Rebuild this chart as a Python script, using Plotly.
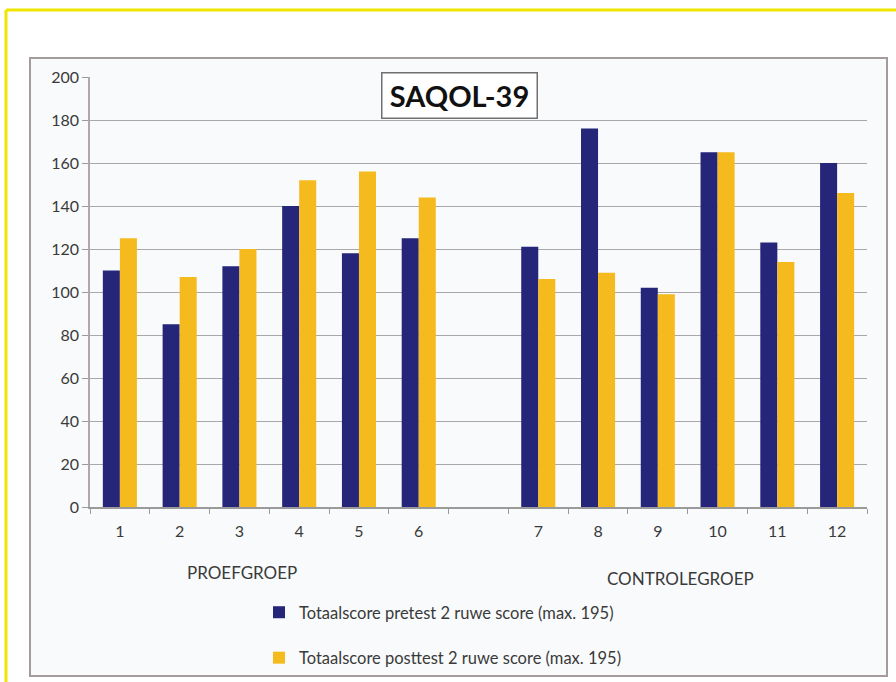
import plotly.graph_objects as go

# ---- data ----
proefgroep = ["1", "2", "3", "4", "5", "6"]
controlegroep = ["7", "8", "9", "10", "11", "12"]
pretest_proef = [110, 85, 112, 140, 118, 125]
posttest_proef = [125, 107, 120, 152, 156, 144]
pretest_controle = [121, 176, 102, 165, 123, 160]
posttest_controle = [106, 109, 99, 165, 114, 146]
y_ticks = [0, 20, 40, 60, 80, 100, 120, 140, 160, 180, 200]

title_text = "SAQOL-39"
group_labels = ["PROEFGROEP", "CONTROLEGROEP"]
series_names = [
    "Totaalscore pretest 2 ruwe score (max. 195)",
    "Totaalscore posttest 2 ruwe score (max. 195)",
]

GAP = " "
x_cats = proefgroep + [GAP] + controlegroep
pre = pretest_proef + [None] + pretest_controle
post = posttest_proef + [None] + posttest_controle

BLUE = "#25257a"
YELLOW = "#f5bb1e"
FONT = "Lato, 'Open Sans', sans-serif"
TXT = "#3a3a3a"

W, H = 896, 682
L, R, T, B = 90, 29, 77, 175
pw = W - L - R
ph = H - T - B


def px_x(px):
    return (px - L) / pw


def px_y(py):
    return (H - B - py) / ph


fig = go.Figure()
fig.add_trace(go.Bar(x=x_cats, y=pre, name=series_names[0], marker_color=BLUE,
                     marker_line_width=0, legendgroup="a"))
fig.add_trace(go.Bar(x=x_cats, y=post, name=series_names[1], marker_color=YELLOW,
                     marker_line_width=0, legendgroup="b"))

shapes = [
    # chart box
    dict(type="rect", xref="paper", yref="paper", layer="below",
         x0=px_x(30), x1=px_x(887), y0=px_y(676), y1=px_y(58),
         fillcolor="#f9fafc", line=dict(color="#a49c9c", width=2)),
    # yellow frame
    dict(type="line", xref="paper", yref="paper", layer="above",
         x0=px_x(6), x1=px_x(6), y0=px_y(10), y1=px_y(690),
         line=dict(color="#efe600", width=3)),
    dict(type="line", xref="paper", yref="paper", layer="above",
         x0=px_x(6), x1=px_x(900), y0=px_y(10), y1=px_y(10),
         line=dict(color="#efe600", width=3)),
]

annotations = [
    dict(text="<b>" + title_text + "</b>", xref="paper", yref="paper",
         x=px_x(459.5), y=px_y(95.5), xanchor="center", yanchor="middle",
         showarrow=False, font=dict(family=FONT, size=29, color="#111111"),
         bordercolor="#707070", borderwidth=1.5, bgcolor="white",
         width=152, height=42),
    dict(text=group_labels[0], xref="paper", yref="paper",
         x=px_x(242), y=px_y(572), xanchor="center", yanchor="middle",
         showarrow=False, font=dict(family=FONT, size=17, color=TXT)),
    dict(text=group_labels[1], xref="paper", yref="paper",
         x=px_x(680), y=px_y(578), xanchor="center", yanchor="middle",
         showarrow=False, font=dict(family=FONT, size=17, color=TXT)),
]

fig.update_layout(
    width=W, height=H,
    margin=dict(l=L, r=R, t=T, b=B, pad=0, autoexpand=False),
    paper_bgcolor="white",
    plot_bgcolor="rgba(0,0,0,0)",
    barmode="group",
    bargap=0.43,
    bargroupgap=0,
    font=dict(family=FONT, size=16, color=TXT),
    shapes=shapes,
    annotations=annotations,
    showlegend=True,
    legend=dict(
        x=px_x(259), y=px_y(595), xanchor="left", yanchor="top",
        orientation="v", bgcolor="rgba(0,0,0,0)",
        font=dict(family=FONT, size=16.5, color=TXT),
        tracegroupgap=21, itemwidth=30, traceorder="grouped",
    ),
    xaxis=dict(
        type="category", categoryorder="array", categoryarray=x_cats,
        range=[-0.5, len(x_cats) - 0.5],
        tickson="boundaries", ticks="outside", ticklen=5, tickcolor="#9a9a9a",
        showline=True, linecolor="#9a9a9a", linewidth=1.5,
        showgrid=False, tickfont=dict(family=FONT, size=16, color=TXT),
        ticklabelstandoff=9,
    ),
    yaxis=dict(
        range=[0, 200], tickvals=y_ticks, ticks="outside", ticklen=6,
        tickcolor="#9a9a9a", showline=True, linecolor="#b0a8a8", linewidth=1.5,
        showgrid=True, gridcolor="#a8a8a8", gridwidth=1.2, zeroline=False,
        tickfont=dict(family=FONT, size=16, color=TXT),
    ),
)

fig.write_html(
    "out.html",
    config={"displayModeBar": False},
    post_script="document.body.style.margin='0';document.body.style.overflow='hidden';",
)
